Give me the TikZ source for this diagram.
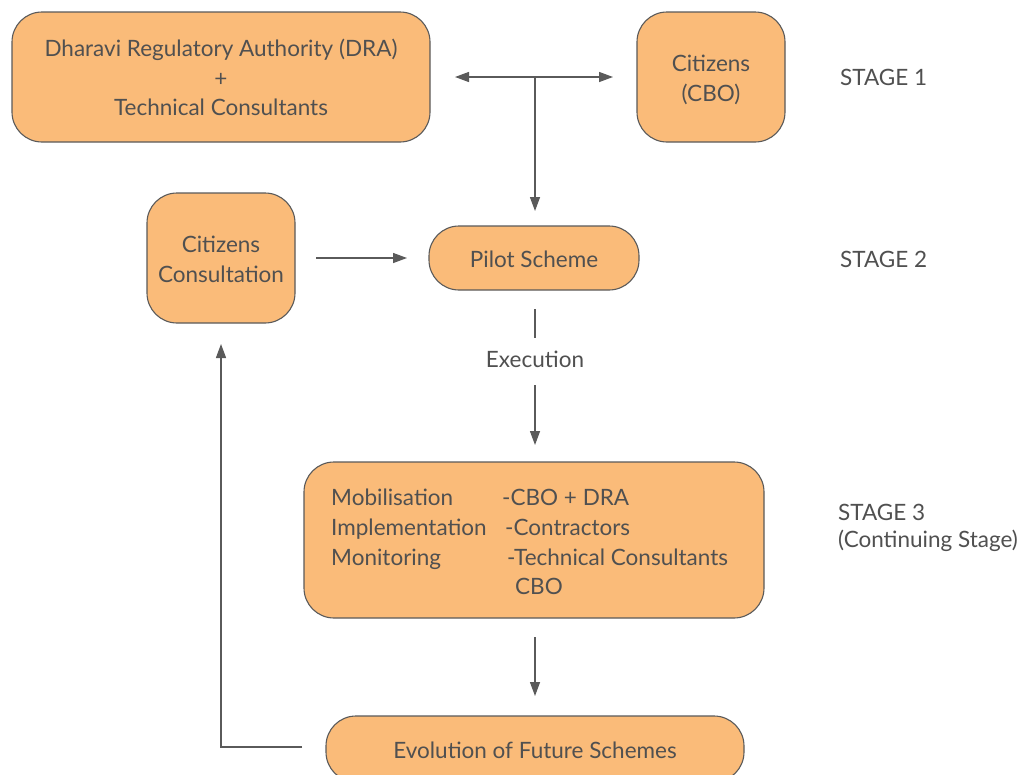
\documentclass[tikz,border=0pt]{standalone}
\usepackage{fontspec}
\setmainfont{Lato}
\usetikzlibrary{arrows.meta}
\definecolor{boxfill}{HTML}{FABB79}
\definecolor{edge}{HTML}{5A5A5A}
\definecolor{txt}{HTML}{505050}
\newcommand{\bt}[1]{\raisebox{-3.5pt}[\height][\depth]{\begin{tabular}{@{}c@{}}#1\end{tabular}}}
\tikzset{
  box/.style={draw=edge, line width=1.1pt, fill=boxfill, rounded corners=30pt, inner sep=0pt, align=center, text=txt, font=\fontsize{22.5}{29.5}\selectfont},
  lbl/.style={inner sep=0pt, text=txt, font=\fontsize{22.5}{27}\selectfont},
  conn/.style={draw=edge, line width=1.3pt, -{Triangle[length=14pt,width=10pt]}},
  plain/.style={draw=edge, line width=1.3pt}
}
\begin{document}
\begin{tikzpicture}[x=1pt,y=-1pt]
\useasboundingbox (0,0) rectangle (1025,774);
\fill[white] (0,0) rectangle (1025,774);
\clip (0,0) rectangle (1025,774);
% nodes
\node[box, minimum width=418pt, minimum height=130pt] (dra) at (221,77) {\bt{Dharavi Regulatory Authority (DRA)\\+\\Technical Consultants}};
\node[box, minimum width=148pt, minimum height=130pt] (cbo) at (711,77) {\bt{Citizens\\(CBO)}};
\node[lbl, anchor=base west] (s1) at (840,85) {STAGE 1};
\node[box, minimum width=148pt, minimum height=130pt] (cc) at (221,258) {\bt{Citizens\\Consultation}};
\node[box, minimum width=210pt, minimum height=64pt] (pilot) at (534,258) {\bt{Pilot Scheme}};
\node[lbl, anchor=base west] (s2) at (840,267) {STAGE 2};
\node[lbl, anchor=base] (exec) at (535,367) {Execution};
\node[box, minimum width=460pt, minimum height=156pt] (impl) at (534,540) {};
\node[lbl, anchor=base west] (m1) at (331,505) {Mobilisation};
\node[lbl, anchor=base west] (m2) at (331,535) {Implementation};
\node[lbl, anchor=base west] (m3) at (331,565) {Monitoring};
\node[lbl, anchor=base west] (r1) at (502,505) {-CBO + DRA};
\node[lbl, anchor=base west] (r2) at (505,535) {-Contractors};
\node[lbl, anchor=base west] (r3) at (507,565) {-Technical Consultants};
\node[lbl, anchor=base west] (r4) at (515,594) {CBO};
\node[lbl, anchor=base west] (s3) at (838,520) {STAGE 3};
\node[lbl, anchor=base west] (s3b) at (838,547) {(Continuing Stage)};
\node[box, minimum width=418pt, minimum height=66pt] (evo) at (535,749) {\bt{Evolution of Future Schemes}};
% connectors
\coordinate (hl) at (455,77);
\coordinate (hr) at (613,77);
\coordinate (hm) at (535,77);
\coordinate (pd) at (535,211);
\draw[conn] (hm) -- (hl);
\draw[conn] (hm) -- (hr);
\draw[conn] (hm) -- (pd);
\coordinate (ccr) at (316,258);
\coordinate (pl) at (407,258);
\draw[conn] (ccr) -- (pl);
\coordinate (e1) at (535,309);
\coordinate (e2) at (535,338);
\draw[plain] (e1) -- (e2);
\coordinate (e3) at (535,385);
\coordinate (e4) at (535,445);
\draw[conn] (e3) -- (e4);
\coordinate (f1) at (535,637);
\coordinate (f2) at (535,696);
\draw[conn] (f1) -- (f2);
\coordinate (b1) at (302,747);
\coordinate (b2) at (221,747);
\coordinate (b3) at (221,344);
\draw[conn] (b1) -- (b2) -- (b3);
\end{tikzpicture}
\end{document}
